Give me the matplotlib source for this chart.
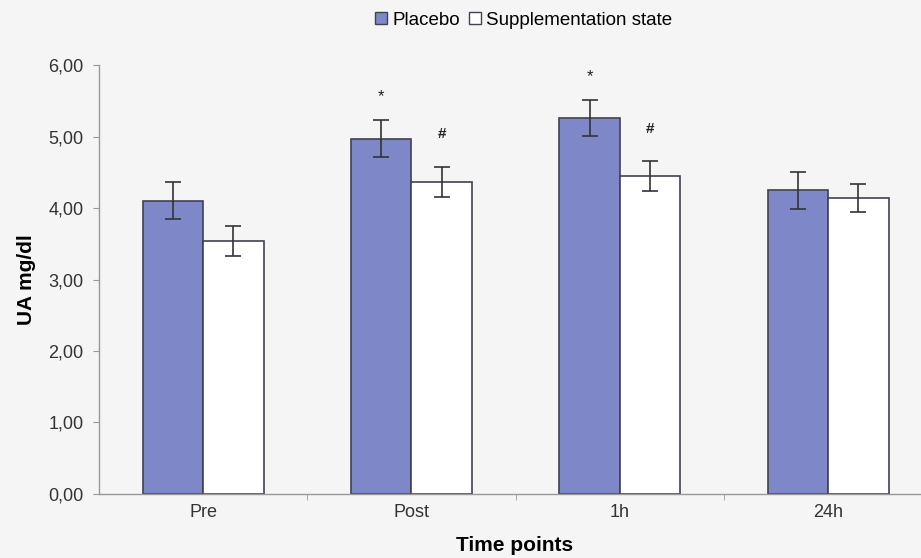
import matplotlib.pyplot as plt
import numpy as np
from matplotlib.lines import Line2D

plt.rcParams["font.family"] = ["Liberation Sans", "DejaVu Sans"]

categories = ["Pre", "Post", "1h", "24h"]
placebo = [4.10, 4.97, 5.26, 4.25]
placebo_err = [0.26, 0.26, 0.25, 0.26]
supplement = [3.54, 4.37, 4.45, 4.14]
supplement_err = [0.21, 0.21, 0.21, 0.20]
placebo_marks = ["", "*", "*", ""]
supplement_marks = ["", "#", "#", ""]
yticks = [0, 1, 2, 3, 4, 5, 6]

bg = "#f5f5f5"
blue = "#7e88c8"
edge = "#3f4350"

fig = plt.figure(figsize=(9.21, 5.58), dpi=100, facecolor=bg)
ax = fig.add_axes([0.1075, 0.1147, 0.9025, 0.7688], facecolor=bg)

x = np.arange(len(categories))
w = 0.29
err_kw = dict(ecolor="#333333", elinewidth=1.2, capsize=6, capthick=1.2)
ax.bar(x - w / 2, placebo, w, yerr=placebo_err, color=blue, edgecolor=edge,
       linewidth=1.2, error_kw=err_kw, zorder=2)
ax.bar(x + w / 2, supplement, w, yerr=supplement_err, color="white",
       edgecolor=edge, linewidth=1.2, error_kw=err_kw, zorder=2)

# significance marks above the error bars
for i in x:
    if placebo_marks[i]:
        ax.text(i - w / 2, placebo[i] + placebo_err[i] + 0.33, placebo_marks[i],
                ha="center", va="center", fontsize=12, color="#222222")
    if supplement_marks[i]:
        ax.text(i + w / 2, supplement[i] + supplement_err[i] + 0.45,
                supplement_marks[i], ha="center", va="center", fontsize=11,
                fontweight="bold", color="#222222")

ax.set_xlim(-0.5, 3.49)
ax.set_ylim(0, 6)
ax.set_yticks(yticks)
ax.set_yticklabels([f"{v:.2f}".replace(".", ",") for v in yticks],
                   fontsize=13, color="#333333")
ax.set_xticks(x)
ax.set_xticklabels(categories, fontsize=13, color="#333333")
ax.set_xticks([0.5, 1.5, 2.5], minor=True)
ax.tick_params(axis="x", which="major", length=0, pad=7)
ax.tick_params(axis="x", which="minor", length=4, color="#999999",
               direction="out")
ax.tick_params(axis="y", length=4, color="#999999", direction="out", pad=7)

for side in ["top", "right"]:
    ax.spines[side].set_visible(False)
for side in ["left", "bottom"]:
    ax.spines[side].set_color("#999999")
    ax.spines[side].set_linewidth(1.0)

ax.set_ylabel("UA mg/dl", fontsize=15, fontweight="bold", labelpad=9)
fig.text(0.559, 0.023, "Time points", ha="center", va="center", fontsize=15,
         fontweight="bold")

handles = [
    Line2D([], [], marker="s", linestyle="none", markersize=8,
           markerfacecolor=blue, markeredgecolor=edge, label="Placebo"),
    Line2D([], [], marker="s", linestyle="none", markersize=8,
           markerfacecolor="white", markeredgecolor=edge,
           label="Supplementation state"),
]
fig.legend(handles=handles, loc="center", bbox_to_anchor=(0.567, 0.964),
           ncol=2, frameon=False, fontsize=13.5, handletextpad=0.1,
           columnspacing=0.3, handlelength=1.0)

fig.savefig("out.png", dpi=100, facecolor=bg)
